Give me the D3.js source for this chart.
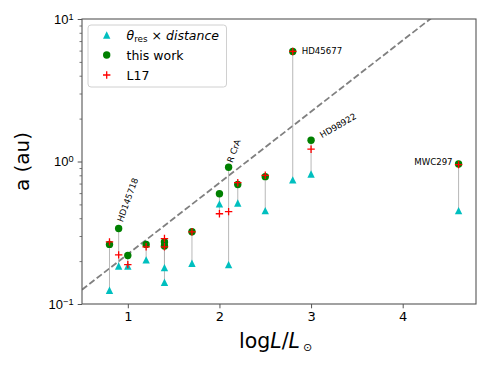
<!DOCTYPE html>
<html>
<head>
<meta charset="utf-8">
<script src="https://cdn.jsdelivr.net/npm/d3@7"></script>
<style>
  body { margin: 0; background: #fff; }
  svg { font-family: "DejaVu Sans", sans-serif; display: block; }
</style>
</head>
<body>
<div id="chart"></div>
<script>
// log L/Lsun of each star
const logL = [0.8, 0.9, 1.0, 1.2, 1.4, 1.4, 1.7, 2.0, 2.1, 2.2, 2.5, 2.8, 3.0, 4.61];
// a (au): this work
const aThis = [0.262, 0.339, 0.219, 0.262, 0.272, 0.255, 0.321, 0.594, 0.911, 0.689, 0.783, 5.92, 1.41, 0.96];
// a (au): L17
const aL17 = [0.273, 0.221, 0.189, 0.252, 0.288, 0.252, 0.321, 0.430, 0.445, 0.71, 0.80, 5.92, 1.22, 0.95];
// a (au): theta_res x distance
const aRes = [0.125, 0.185, 0.185, 0.204, 0.180, 0.142, 0.193, 0.504, 0.189, 0.512, 0.452, 0.743, 0.818, 0.452];
// named stars (index into the arrays above)
const starNames = ["HD145718", "R CrA", "HD45677", "HD98922", "MWC297"];
const starIndex = [1, 8, 11, 12, 13];
// tick values
const xTicks = [1, 2, 3, 4];
const yTicks = [0.1, 1, 10];
const yTickExp = ["\u22121", "0", "1"];
// dashed relation: log a = 0.5 log L - 1.15
const lineSlope = 0.5, lineIntercept = -1.15;

const width = 490, height = 368;
const margin = { left: 82, right: 14, top: 19, bottom: 64 };

const svg = d3.select("#chart").append("svg")
  .attr("width", width).attr("height", height);

const x = d3.scaleLinear().domain([0.5, 4.8]).range([margin.left, width - margin.right]);
const y = d3.scaleLog().domain([0.1, 10]).range([height - margin.bottom, margin.top]);

svg.append("clipPath").attr("id", "clip").append("rect")
  .attr("x", margin.left).attr("y", margin.top)
  .attr("width", x.range()[1] - x.range()[0])
  .attr("height", y.range()[0] - y.range()[1]);

const plot = svg.append("g").attr("clip-path", "url(#clip)");

// dashed line
const lx = [0.5, 4.8];
plot.append("line")
  .attr("x1", x(lx[0])).attr("y1", y(Math.pow(10, lineSlope * lx[0] + lineIntercept)))
  .attr("x2", x(lx[1])).attr("y2", y(Math.pow(10, lineSlope * lx[1] + lineIntercept)))
  .attr("stroke", "#808080").attr("stroke-width", 1.8)
  .attr("stroke-dasharray", "6.5,2.8");

// vertical connectors
const idx = d3.range(logL.length);
plot.selectAll(".conn").data(idx).join("line")
  .attr("class", "conn")
  .attr("x1", i => x(logL[i])).attr("x2", i => x(logL[i]))
  .attr("y1", i => y(Math.max(aThis[i], aL17[i], aRes[i])))
  .attr("y2", i => y(Math.min(aThis[i], aL17[i], aRes[i])))
  .attr("stroke", "#b0b0b0").attr("stroke-width", 0.9);

const tri = s => `M0,${-s / 2}L${-s / 2},${s / 2}L${s / 2},${s / 2}Z`;
const plus = s => `M${-s / 2},0H${s / 2}M0,${-s / 2}V${s / 2}`;
const ms = 7.4;

plot.selectAll(".tri").data(idx).join("path")
  .attr("class", "tri")
  .attr("transform", i => `translate(${x(logL[i])},${y(aRes[i])})`)
  .attr("d", tri(ms)).attr("fill", "#00bfbf");

plot.selectAll(".dot").data(idx).join("circle")
  .attr("class", "dot")
  .attr("cx", i => x(logL[i])).attr("cy", i => y(aThis[i]))
  .attr("r", ms / 2).attr("fill", "#008000");

plot.selectAll(".plus").data(idx).join("path")
  .attr("class", "plus")
  .attr("transform", i => `translate(${x(logL[i])},${y(aL17[i])})`)
  .attr("d", plus(ms)).attr("stroke", "#ff0000").attr("stroke-width", 1.3).attr("fill", "none");

// star labels
const labelStyle = [
  { dx: 4, dy: -6, rot: -70, anchor: "start" },
  { dx: 4, dy: -4, rot: -70, anchor: "start" },
  { dx: 9, dy: 3, rot: 0, anchor: "start" },
  { dx: 11, dy: -2, rot: -30, anchor: "start" },
  { dx: -6, dy: 1, rot: 0, anchor: "end" }
];
starNames.forEach((name, k) => {
  const i = starIndex[k], s = labelStyle[k];
  svg.append("text")
    .attr("transform", `translate(${x(logL[i]) + s.dx},${y(aThis[i]) + s.dy}) rotate(${s.rot})`)
    .attr("text-anchor", s.anchor)
    .attr("font-size", "8.6px")
    .attr("fill", "#000")
    .text(name);
});

// axes
const axisColor = "#555";
const yb = y.range()[0];
const xAxis = svg.append("g").attr("transform", `translate(0,${yb})`)
  .call(d3.axisBottom(x).tickValues(xTicks).tickFormat(d3.format("d"))
    .tickSize(4.3).tickPadding(3.5).tickSizeOuter(0));
xAxis.select(".domain").remove();
xAxis.selectAll("line").attr("stroke", axisColor).attr("stroke-width", 1);
xAxis.selectAll("text").attr("font-size", "13px").attr("font-family", "DejaVu Sans").attr("fill", "#000");

const minor = [];
[0.1, 1].forEach(b => { for (let m = 2; m <= 9; m++) minor.push(b * m); });
const yMinor = svg.append("g").attr("transform", `translate(${margin.left},0)`)
  .call(d3.axisLeft(y).tickValues(minor).tickSize(2.5).tickFormat("").tickSizeOuter(0));
yMinor.select(".domain").remove();
yMinor.selectAll("line").attr("stroke", axisColor).attr("stroke-width", 0.8);

const yAxis = svg.append("g").attr("transform", `translate(${margin.left},0)`)
  .call(d3.axisLeft(y).tickValues(yTicks).tickSize(4.3).tickPadding(4).tickFormat("").tickSizeOuter(0));
yAxis.select(".domain").remove();
yAxis.selectAll("line").attr("stroke", axisColor).attr("stroke-width", 1);
yAxis.selectAll(".tick").each(function (d, i) {
  const t = d3.select(this).append("text")
    .attr("x", -8.5).attr("dy", "0.32em")
    .attr("text-anchor", "end").attr("font-size", "13px").attr("fill", "#000");
  t.append("tspan").text("10");
  t.append("tspan").attr("dy", "-0.45em").attr("font-size", "9.2px").text(yTickExp[i]);
});

// frame
svg.append("rect")
  .attr("x", margin.left).attr("y", margin.top)
  .attr("width", x.range()[1] - x.range()[0])
  .attr("height", y.range()[0] - y.range()[1])
  .attr("fill", "none").attr("stroke", axisColor).attr("stroke-width", 1.1);

// axis labels
const xl = svg.append("text").attr("x", 239).attr("y", 348.3)
  .attr("font-size", "20.5px").attr("fill", "#000");
xl.append("tspan").text("log");
xl.append("tspan").attr("font-style", "italic").text("L");
xl.append("tspan").text("/");
xl.append("tspan").attr("font-style", "italic").text("L");
xl.append("tspan").attr("font-size", "11px").attr("dx", "3").attr("dy", "3").text("\u2299");

svg.append("text")
  .attr("transform", `translate(28.5,${(y.range()[0] + y.range()[1]) / 2}) rotate(-90)`)
  .attr("text-anchor", "middle").attr("font-size", "20px").attr("fill", "#000")
  .text("a (au)");

// legend
const legend = svg.append("g").attr("transform", "translate(88,25)");
legend.append("rect")
  .attr("width", 138.5).attr("height", 62).attr("rx", 3)
  .attr("fill", "#fff").attr("fill-opacity", 0.8)
  .attr("stroke", "#d0d0d0").attr("stroke-width", 1);
const rows = [10, 30, 50];
legend.append("path").attr("transform", `translate(18.7,${rows[0]})`).attr("d", tri(ms)).attr("fill", "#00bfbf");
legend.append("circle").attr("cx", 18.7).attr("cy", rows[1]).attr("r", ms / 2).attr("fill", "#008000");
legend.append("path").attr("transform", `translate(18.7,${rows[2]})`).attr("d", plus(ms))
  .attr("stroke", "#ff0000").attr("stroke-width", 1.3).attr("fill", "none");

const lt0 = legend.append("text").attr("x", 38.5).attr("y", rows[0] + 4.5).attr("font-size", "12.5px");
lt0.append("tspan").attr("font-style", "italic").text("\u03b8");
lt0.append("tspan").attr("font-size", "8.8px").attr("dy", "2.5").text("res");
lt0.append("tspan").attr("dy", "-2.5").text(" \u00d7 ");
lt0.append("tspan").attr("font-style", "italic").text("distance");
legend.append("text").attr("x", 38.5).attr("y", rows[1] + 4.5).attr("font-size", "12.5px").text("this work");
legend.append("text").attr("x", 38.5).attr("y", rows[2] + 4.5).attr("font-size", "12.5px").text("L17");
</script>
</body>
</html>
